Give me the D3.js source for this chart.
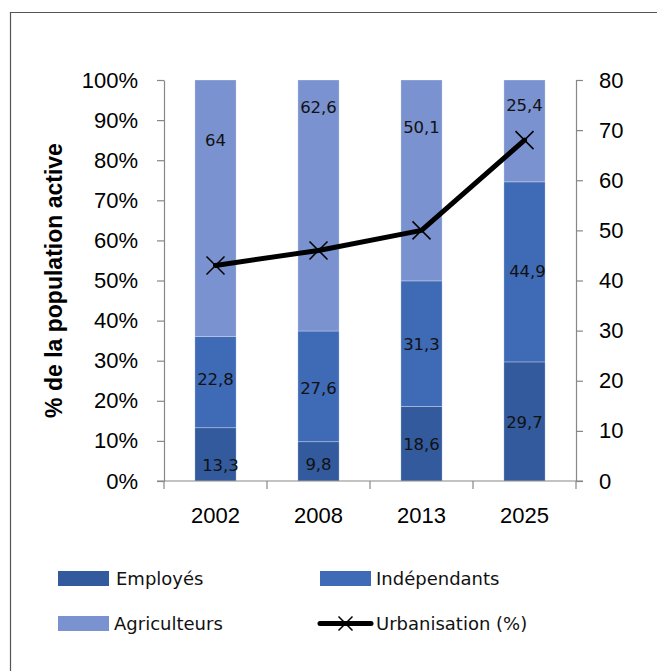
<!DOCTYPE html>
<html>
<head>
<meta charset="utf-8">
<script src="https://cdn.jsdelivr.net/npm/d3@7"></script>
<style>
  html, body { margin: 0; padding: 0; background: #fff; }
  svg { display: block; }
</style>
</head>
<body>
<script>
// ---------- DATA ----------
const years = ["2002", "2008", "2013", "2025"];
const seriesNames = ["Employés", "Indépendants", "Agriculteurs"];
const employes = [13.3, 9.8, 18.6, 29.7];
const independants = [22.8, 27.6, 31.3, 44.9];
const agriculteurs = [64, 62.6, 50.1, 25.4];
const urbanisation = [43, 46, 50, 68];
const leftTicks = [0, 0.1, 0.2, 0.3, 0.4, 0.5, 0.6, 0.7, 0.8, 0.9, 1];
const rightTicks = [0, 10, 20, 30, 40, 50, 60, 70, 80];

// ---------- LAYOUT / STYLE ----------
const W = 657, H = 671;
const plot = { left: 164, right: 576, top: 80, bottom: 481 };
const colors = ["#325A9C", "#3F6AB6", "#7A92CF"];
const axisColor = "#878787";
const tickFont = "'Liberation Sans', Arial, sans-serif";
const labelFont = "'DejaVu Sans', Verdana, sans-serif";
// Where the Agriculteurs labels sit (share of bar height) as placed in the source
const agriLabelAt = [0.848, 0.931, 0.881, 0.936];
const labelNudgeY = [[11, 3, 1, 1], [-3, 2, 1, 0], [0, 0, 0, 0]];
const labelNudgeX = [[5, 0, 0, 0], [0, 0, 0, 3], [0, 0, 0, 0]];

const svg = d3.select("body").append("svg").attr("width", W).attr("height", H);
svg.append("rect").attr("width", W).attr("height", H).attr("fill", "#fff");

// Chart frame (runs off the right/bottom edge in the source)
svg.append("path")
  .attr("d", `M10.5,${H}V12.5H${W}`)
  .attr("fill", "none").attr("stroke", "#555").attr("stroke-width", 1.2);

// ---------- SCALES ----------
const x = d3.scaleBand().domain(years).range([plot.left, plot.right])
  .paddingInner(0.6).paddingOuter(0.3);
const xEdge = d3.scaleLinear().domain([0, years.length]).range([plot.left, plot.right]);
const yL = d3.scaleLinear().domain([0, 1]).range([plot.bottom, plot.top]);
const yR = d3.scaleLinear().domain([0, 80]).range([plot.bottom, plot.top]);

// ---------- STACK ----------
const rows = years.map((yr, i) => ({
  year: yr,
  "Employés": employes[i],
  "Indépendants": independants[i],
  "Agriculteurs": agriculteurs[i]
}));
const stack = d3.stack().keys(seriesNames).offset(d3.stackOffsetExpand);
const layers = stack(rows);

const gBars = svg.append("g");
layers.forEach((layer, si) => {
  gBars.selectAll(null).data(layer).enter().append("rect")
    .attr("x", d => x(d.data.year))
    .attr("width", x.bandwidth())
    .attr("y", d => yL(d[1]))
    .attr("height", d => yL(d[0]) - yL(d[1]))
    .attr("fill", colors[si])
    .attr("stroke", "rgba(255,255,255,0.35)")
    .attr("stroke-width", 0.8);
});

// ---------- AXES ----------
function styleAxis(g) {
  g.selectAll("path.domain").attr("stroke", axisColor).attr("stroke-width", 1.2);
  g.selectAll(".tick line").attr("stroke", axisColor).attr("stroke-width", 1.2);
  g.selectAll(".tick text").attr("fill", "#000")
    .style("font-family", tickFont).style("font-size", "22px");
}
const axL = svg.append("g").attr("transform", `translate(${plot.left},0)`)
  .call(d3.axisLeft(yL).tickValues(leftTicks).tickFormat(d => Math.round(d * 100) + "%")
    .tickSize(7).tickSizeOuter(0).tickPadding(19));
styleAxis(axL);
const axR = svg.append("g").attr("transform", `translate(${plot.right},0)`)
  .call(d3.axisRight(yR).tickValues(rightTicks).tickFormat(d3.format("d"))
    .tickSize(7).tickSizeOuter(0).tickPadding(16));
styleAxis(axR);
const axB = svg.append("g").attr("transform", `translate(0,${plot.bottom})`)
  .call(d3.axisBottom(x).tickSize(0).tickSizeOuter(0).tickPadding(26));
styleAxis(axB);
axB.select("path.domain").attr("d", `M${plot.left - 7},0H${plot.right + 7}`);
axB.selectAll(null).data(d3.range(years.length + 1)).enter().append("line")
  .attr("x1", d => xEdge(d)).attr("x2", d => xEdge(d))
  .attr("y1", 0).attr("y2", 8)
  .attr("stroke", axisColor).attr("stroke-width", 1.2);

// Axis title
svg.append("text")
  .attr("transform", `translate(61.5,${(plot.top + plot.bottom) / 2}) rotate(-90)`)
  .attr("text-anchor", "middle")
  .style("font-family", "'Liberation Sans', Arial, sans-serif")
  .style("font-weight", "bold").style("font-size", "23px")
  .text("% de la population active");

// ---------- DATA LABELS ----------
const gLabels = svg.append("g")
  .style("font-family", labelFont).style("font-size", "16.5px").attr("fill", "#111");
const fmt = v => String(v).replace(".", ",");
const rawSeries = [employes, independants, agriculteurs];
layers.forEach((layer, si) => {
  gLabels.selectAll(null).data(layer).enter().append("text")
    .attr("x", (d, i) => x(d.data.year) + x.bandwidth() / 2 + labelNudgeX[si][i])
    .attr("y", (d, i) => (si === 2 ? yL(agriLabelAt[i]) : yL((d[0] + d[1]) / 2)) + labelNudgeY[si][i])
    .attr("text-anchor", "middle")
    .attr("dominant-baseline", "central")
    .text((d, i) => fmt(rawSeries[si][i]));
});

// ---------- URBANISATION LINE ----------
const pts = years.map((yr, i) => [x(yr) + x.bandwidth() / 2, yR(urbanisation[i])]);
svg.append("path")
  .attr("d", d3.line()(pts))
  .attr("fill", "none").attr("stroke", "#000").attr("stroke-width", 5)
  .attr("stroke-linejoin", "round").attr("stroke-linecap", "round");
function cross(g, cx, cy, r) {
  g.append("path")
    .attr("d", `M${cx - r},${cy - r}L${cx + r},${cy + r}M${cx - r},${cy + r}L${cx + r},${cy - r}`)
    .attr("stroke", "#000").attr("stroke-width", 1.5).attr("fill", "none");
}
pts.forEach(p => cross(svg, p[0], p[1], 9));

// ---------- LEGEND ----------
const lg = svg.append("g").style("font-family", labelFont).style("font-size", "18px").attr("fill", "#111");
const legendItems = [
  { name: seriesNames[0], type: "rect", color: colors[0], px: 58, py: 571, tx: 116, ty: 585 },
  { name: seriesNames[1], type: "rect", color: colors[1], px: 320, py: 571, tx: 376, ty: 585 },
  { name: seriesNames[2], type: "rect", color: colors[2], px: 58, py: 616, tx: 114, ty: 630 },
  { name: "Urbanisation (%)", type: "line", px: 318, py: 616, tx: 376, ty: 630 }
];
legendItems.forEach(it => {
  if (it.type === "rect") {
    lg.append("rect").attr("x", it.px).attr("y", it.py).attr("width", 51).attr("height", 15)
      .attr("fill", it.color);
  } else {
    lg.append("line").attr("x1", it.px + 2).attr("x2", it.px + 53)
      .attr("y1", it.py + 7.5).attr("y2", it.py + 7.5)
      .attr("stroke", "#000").attr("stroke-width", 5).attr("stroke-linecap", "round");
    cross(lg, it.px + 27.5, it.py + 7.5, 7);
  }
  lg.append("text").attr("x", it.tx).attr("y", it.ty).text(it.name);
});
</script>
</body>
</html>
